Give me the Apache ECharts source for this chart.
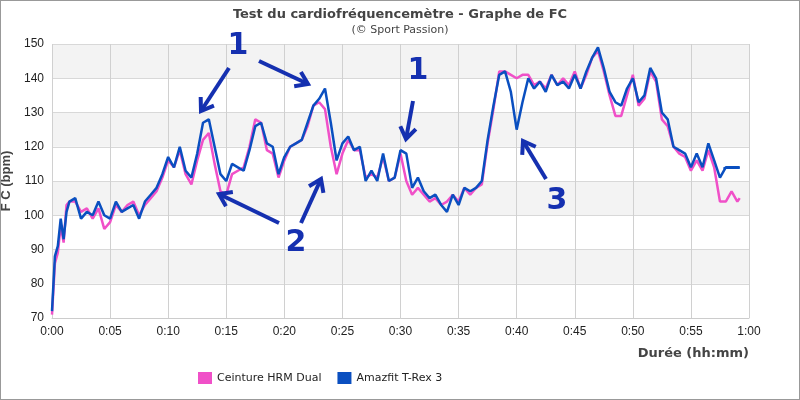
<!DOCTYPE html><html><head><meta charset="utf-8">
<script src="https://cdn.jsdelivr.net/npm/echarts@6/dist/echarts.min.js"></script>
<style>html,body{margin:0;padding:0}#c{width:800px;height:400px;box-sizing:border-box;border:1px solid #999}</style></head><body><div id="c"></div>
<script>
const minutes=[0,0.25,0.5,0.75,1,1.25,1.5,2,2.5,3,3.5,4,4.5,5,5.5,6,6.5,7,7.5,8,8.5,9,9.5,10,10.5,11,11.5,12,12.5,13,13.5,14,14.5,15,15.5,16,16.5,17,17.5,18,18.5,19,19.5,20,20.5,21,21.5,22,22.5,23,23.5,24,24.5,25,25.5,26,26.5,27,27.5,28,28.5,29,29.5,30,30.5,31,31.5,32,32.5,33,33.5,34,34.5,35,35.5,36,36.5,37,37.5,38,38.5,39,39.5,40,40.5,41,41.5,42,42.5,43,43.5,44,44.5,45,45.5,46,46.5,47,47.5,48,48.5,49,49.5,50,50.5,51,51.5,52,52.5,53,53.5,54,54.5,55,55.5,56,56.5,57,57.5,58,58.5,59,59.2];
const amazfit=[72,88,91,99,93,101,104,105,99,101,100,104,100,99,104,101,102,103,99,104,106,108,112,117,114,120,113,111,118,127,128,120,112,110,115,114,113,119,126,127,121,120,112,117,120,121,122,127,132,134,137,127,116,121,123,119,120,110,113,110,118,110,111,119,118,108,111,107,105,106,103,101,106,103,108,107,108,110,122,132,141,142,136,125,133,140,137,139,136,141,138,139,137,141,137,142,146,149,143,136,133,132,137,140,133,135,143,140,130,128,120,119,118,114,118,114,121,116,111,114,114,114,114];
const ceinture=[71,86,89,97,92,103,104,104,101,102,99,102,96,98,103,101,103,104,100,103,105,107,111,116,114,119,112,109,116,122,124,115,107,106,112,113,114,120,128,127,119,118,111,116,120,121,122,126,132,133,131,120,112,118,122,119,119,111,112,111,117,110,111,118,110,106,108,106,104,105,103,104,106,104,108,106,108,109,121,131,142,142,141,140,141,141,138,139,137,141,138,140,138,142,137,141,146,148,142,135,129,129,135,141,132,134,142,139,128,126,120,118,117,113,116,113,119,114,104,104,107,104,105];
const fmt=v=>Math.floor(v/60)+':'+String(v%60).padStart(2,'0');
const pink=minutes.map((m,i)=>[m,ceinture[i]]);
const blue=minutes.map((m,i)=>[m,amazfit[i]]);
const C='#1530b0';
const arrows=[[228,67,200,110],[258,60,307,83],[412,100,405,138],[278,222,218,193],[300,222,320,178],[545,178,522,140]];
const labels=[['1',237,45],['1',417,70],['2',295,242],['3',556,200]];
const g=[];
arrows.forEach(([x1,y1,x2,y2])=>{
 const a=Math.atan2(y2-y1,x2-x1),L=14,w=0.6;
 g.push({type:'line',shape:{x1,y1,x2,y2},style:{stroke:C,lineWidth:4},z:100});
 g.push({type:'polyline',shape:{points:[[x2-L*Math.cos(a-w),y2-L*Math.sin(a-w)],[x2,y2],[x2-L*Math.cos(a+w),y2-L*Math.sin(a+w)]]},style:{stroke:C,lineWidth:4,fill:null},z:100});
});
labels.forEach(([t,x,y])=>g.push({type:'text',x,y,style:{text:t,fill:C,font:'bold 30px DejaVu Sans',align:'center',verticalAlign:'middle'},z:100}));
g.push({type:'text',right:50,top:346,style:{text:'Durée (hh:mm)',fill:'#444',font:'bold 13px DejaVu Sans'}});
const ch=echarts.init(document.getElementById('c'));
ch.setOption({animation:false,
 title:{text:'Test du cardiofréquencemètre - Graphe de FC',subtext:'(© Sport Passion)',left:'center',top:2,itemGap:4,
  textStyle:{fontSize:13,fontWeight:'bold',color:'#444',fontFamily:'DejaVu Sans'},subtextStyle:{fontSize:11,color:'#444',fontFamily:'DejaVu Sans'}},
 grid:{left:51,right:50,top:43,bottom:81,outerBoundsMode:'none',containLabel:false},
 legend:{bottom:10,left:192,icon:'rect',itemWidth:14,itemHeight:12,itemGap:16,textStyle:{fontSize:11,color:'#222',fontFamily:'DejaVu Sans'}},
 xAxis:{type:'value',min:0,max:60,interval:5,
  axisLine:{lineStyle:{color:'#ccc'}},axisTick:{show:false},axisLabel:{formatter:fmt,color:'#222',fontSize:12},
  splitLine:{show:true,lineStyle:{color:'#d0d0d0'}}},
 yAxis:{type:'value',min:70,max:150,interval:10,name:'F C (bpm)',nameLocation:'middle',nameGap:32,
  nameTextStyle:{fontWeight:'bold',fontSize:13,color:'#444'},
  axisLine:{show:false},axisTick:{show:false},axisLabel:{color:'#222',fontSize:12},
  splitLine:{lineStyle:{color:'#d8d8d8'}},splitArea:{show:true,areaStyle:{color:['#fff','#f3f3f3']}}},
 series:[
  {name:'Ceinture HRM Dual',type:'line',data:pink,showSymbol:false,color:'#f050c8',lineStyle:{width:2.5}},
  {name:'Amazfit T-Rex 3',type:'line',data:blue,showSymbol:false,color:'#0a4fc0',lineStyle:{width:2.5},
   markLine:{silent:true,symbol:'none',label:{show:false},lineStyle:{color:'#0a4fc0',type:'solid',width:2},data:[[{coord:[57.8,114]},{coord:[59.2,114]}]]}}
 ],graphic:g});
</script></body></html>
